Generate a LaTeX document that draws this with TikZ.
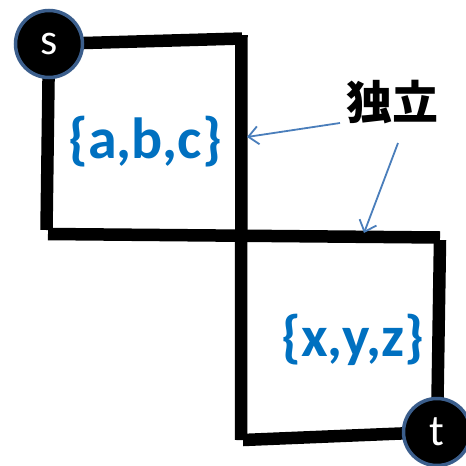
\documentclass[tikz,border=0pt]{standalone}
\usepackage{fontspec}
\setmainfont{Carlito}
\newfontfamily\cjkfont{Noto Sans CJK JP}
\usetikzlibrary{arrows.meta}
\definecolor{setblue}{HTML}{0070C0}
\definecolor{arrowblue}{HTML}{4A7EBB}
\definecolor{ringblue}{HTML}{3B5E8C}
\begin{document}
\begin{tikzpicture}[x=1pt,y=-1pt,
  edge/.style={line width=12.5pt,line cap=butt,black},
  vertex/.style={circle,fill=black,draw=ringblue,line width=3.5pt,minimum size=67pt,inner sep=0pt,text=white,font=\fontsize{44}{44}\selectfont},
  setlabel/.style={text=setblue,font=\bfseries\fontsize{58}{58}\selectfont,inner sep=0pt},
  pointer/.style={draw=arrowblue,line width=1.8pt,-{Straight Barb[length=10pt,width=18pt,line width=1.8pt]}}]
\useasboundingbox (0,0) rectangle (466,466);
% corner coordinates
\coordinate (tr1) at (242,38.5);
\coordinate (vtop) at (241.5,35);
\coordinate (vbot) at (241,440);
\coordinate (lb) at (46.5,230);
\coordinate (ml) at (48,234);
\coordinate (mr) at (440,237.5);
\coordinate (rt) at (440,240);
\coordinate (bl) at (243,440);
\node[vertex,draw=none,fill=none,text=white] (sp) at (49,44) {};
\node[vertex,draw=none,fill=none] (tp) at (437,432) {};
% edges
\draw[edge] (sp.center) -- (tr1);
\draw[edge] (vtop) -- (vbot);
\draw[edge] (sp.center) -- (lb);
\draw[edge] (ml) -- (mr);
\draw[edge] (rt) -- (tp.center);
\draw[edge] (bl) -- (tp.center);
% vertices
\node[vertex] (s) at (49,44) {\raisebox{1pt}{s}};
\node[vertex] (t) at (437,432) {t};
% labels
\node[setlabel] (abc) at (145,142) {\{a,b,c\}};
\node[setlabel] (xyz) at (353,340) {\{x,y,z\}};
\node[inner sep=0pt,font=\cjkfont\bfseries\fontsize{46}{46}\selectfont] (dl) at (392,102) {独立};
% pointers
\coordinate (p1s) at (340,123);
\coordinate (p1e) at (247,137);
\coordinate (p2s) at (398,143);
\coordinate (p2e) at (364,233);
\draw[pointer] (p1s) -- (p1e);
\draw[pointer] (p2s) -- (p2e);
\end{tikzpicture}
\end{document}
